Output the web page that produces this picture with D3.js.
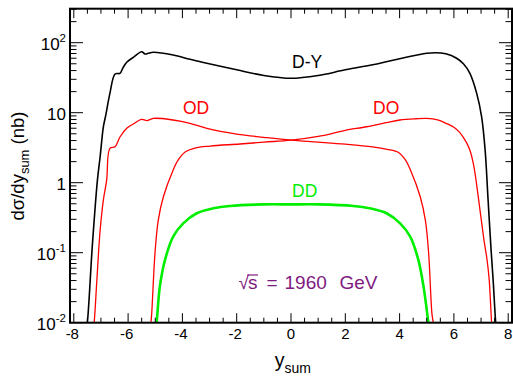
<!DOCTYPE html>
<html>
<head>
<meta charset="utf-8">
<script src="https://cdn.jsdelivr.net/npm/d3@7"></script>
<style>
  body { margin: 0; background: #fff; }
  text { font-family: "Liberation Sans", Arial, Helvetica, sans-serif; }
</style>
</head>
<body>
<svg id="chart" width="513" height="377"></svg>
<script>
// Drell-Yan rapidity distributions, d sigma / d y_sum in nb

// D-Y (total)
const dyX = [-7.60, -7.50, -7.32, -7.13, -7.03, -6.91, -6.82, -6.67, -6.48, -6.30, -6.18, -6.05, -5.81, -5.50, -5.38, -5.26, -5.07, -4.34, -3.72, -3.10, -2.0, -1.0, 0.0, 1.0, 2.0, 3.28, 4.0, 4.6, 5.0, 5.3, 5.7, 6.10, 6.35, 6.59, 6.84, 7.02, 7.15, 7.26, 7.37, 7.45, 7.54, 7.62];
const dyVal = [0.005, 0.01, 0.122, 1.09, 2.35, 6.3, 9.3, 18.9, 35.7, 36.5, 44.5, 52.5, 61.8, 74.4, 69, 70.6, 73, 66.7, 58, 50.8, 41, 34, 31, 34, 41, 51, 59, 66, 70.5, 72, 69.5, 60, 50, 36.5, 18.9, 8.8, 2.93, 0.56, 0.109, 0.038, 0.01, 0.005];

// OD component
const odX = [-7.32, -7.25, -7.15, -7.03, -6.91, -6.79, -6.67, -6.48, -6.30, -6.05, -5.81, -5.50, -5.31, -5.07, -4.34, -3.72, -3.10, -2.0, -1.0, 0.0, 1.0, 2.0, 3.0, 3.54, 3.96, 4.22, 4.40, 4.76, 4.95, 5.07, 5.19, 5.24, 5.30];
const odVal = [0.006, 0.01, 0.041, 0.21, 0.57, 1.09, 3.1, 3.27, 4.5, 6.0, 6.9, 8.05, 7.7, 8.3, 7.87, 7.06, 5.98, 4.95, 4.45, 4.05, 3.8, 3.55, 3.25, 3.0, 2.7, 2.1, 1.52, 0.63, 0.29, 0.098, 0.0136, 0.01, 0.006];

// DO component
const doX = [-5.22, -5.16, -5.13, -5.01, -4.89, -4.70, -4.34, -4.16, -3.90, -3.54, -2.98, -1.88, -1.0, 0.0, 1.0, 1.56, 2.0, 2.79, 3.5, 4.01, 4.6, 5.0, 5.4, 5.73, 6.0, 6.22, 6.47, 6.59, 6.70, 6.78, 6.96, 7.11, 7.22, 7.30, 7.39, 7.46];
const doVal = [0.007, 0.01, 0.0136, 0.098, 0.29, 0.63, 1.52, 2.1, 2.75, 3.13, 3.34, 3.57, 3.8, 4.05, 4.6, 5.1, 5.6, 6.3, 7.2, 7.87, 8.2, 8.3, 7.9, 7.0, 6.2, 5.2, 3.7, 2.9, 2.0, 1.35, 0.41, 0.15, 0.08, 0.041, 0.01, 0.005];

// DD component
const ddX = [-5.00, -4.95, -4.83, -4.64, -4.34, -3.97, -3.47, -2.86, -2.25, -1.02, 0.0, 1.02, 2.30, 2.90, 3.52, 4.02, 4.39, 4.69, 4.88, 5.06, 5.11];
const ddVal = [0.007, 0.01, 0.033, 0.079, 0.17, 0.263, 0.366, 0.431, 0.465, 0.49, 0.49, 0.49, 0.465, 0.431, 0.366, 0.263, 0.17, 0.079, 0.033, 0.01, 0.007];

const xTicks = [-8, -6, -4, -2, 0, 2, 4, 6, 8];
const yTicks = [0.01, 0.1, 1, 10, 100];
const yTickBase = ["10", "10", "1", "10", "10"];
const yTickExp = ["-2", "-1", "", "", "2"];

const series = [
  { name: "D-Y", xs: dyX, vs: dyVal, color: "#000000", width: 1.6 },
  { name: "OD",  xs: odX, vs: odVal, color: "#ff0000", width: 1.3 },
  { name: "DO",  xs: doX, vs: doVal, color: "#ff0000", width: 1.3 },
  { name: "DD",  xs: ddX, vs: ddVal, color: "#00ee00", width: 2.6 }
];

const plotL = 70, plotR = 512, plotT = 8.7, plotB = 322.7;
const svg = d3.select("#chart");

const x = d3.scaleLinear().domain([-8.14, 8.14]).range([plotL, plotR]);
const y = d3.scaleLog().domain([0.01, Math.pow(10, 2 + 34 / 70)]).range([plotB, plotT]);

svg.append("defs").append("clipPath").attr("id", "plotclip")
  .append("rect").attr("x", plotL).attr("y", plotT)
  .attr("width", plotR - plotL).attr("height", plotB - plotT);

// curves
const line = d3.line()
  .x(d => x(d[0]))
  .y(d => y(d[1]))
  .curve(d3.curveCatmullRom.alpha(0.5));

const g = svg.append("g").attr("clip-path", "url(#plotclip)");
series.forEach(s => {
  const pts = s.xs.map((v, i) => [v, s.vs[i]]);
  g.append("path")
    .attr("d", line(pts))
    .attr("fill", "none")
    .attr("stroke", s.color)
    .attr("stroke-width", s.width)
    .attr("stroke-linejoin", "round");
});

// ticks (all inward) on four sides
const xMinor = d3.range(-8, 8.001, 0.5).filter(v => Math.abs(v % 2) > 1e-6);
const yMinor = [];
for (let e = -2; e <= 2; e++) {
  for (let k = 2; k <= 9; k++) {
    const v = k * Math.pow(10, e);
    if (v <= y.domain()[1]) yMinor.push(v);
  }
}
const tk = svg.append("g").attr("stroke", "#000").attr("stroke-width", 1);
xTicks.forEach(v => {
  const px = x(v);
  tk.append("line").attr("x1", px).attr("x2", px).attr("y1", plotB).attr("y2", plotB - 9.5);
  tk.append("line").attr("x1", px).attr("x2", px).attr("y1", plotT).attr("y2", plotT + 9.5);
});
xMinor.forEach(v => {
  const px = x(v);
  tk.append("line").attr("x1", px).attr("x2", px).attr("y1", plotB).attr("y2", plotB - 5);
  tk.append("line").attr("x1", px).attr("x2", px).attr("y1", plotT).attr("y2", plotT + 5);
});
yTicks.forEach(v => {
  const py = y(v);
  tk.append("line").attr("x1", plotL).attr("x2", plotL + 13).attr("y1", py).attr("y2", py);
  tk.append("line").attr("x1", plotR).attr("x2", plotR - 13).attr("y1", py).attr("y2", py);
});
yMinor.forEach(v => {
  const py = y(v);
  tk.append("line").attr("x1", plotL).attr("x2", plotL + 6.5).attr("y1", py).attr("y2", py);
  tk.append("line").attr("x1", plotR).attr("x2", plotR - 6.5).attr("y1", py).attr("y2", py);
});

// frame
svg.append("rect")
  .attr("x", plotL).attr("y", plotT)
  .attr("width", plotR - plotL).attr("height", plotB - plotT)
  .attr("fill", "none").attr("stroke", "#000").attr("stroke-width", 2);

// x tick labels
xTicks.forEach(v => {
  svg.append("text")
    .attr("x", x(v) + (v < 0 ? -1.5 : 0)).attr("y", plotB + 16.5)
    .attr("text-anchor", "middle")
    .attr("font-size", 15)
    .text(v < 0 ? "-" + Math.abs(v) : String(v));
});

// y tick labels
yTicks.forEach((v, i) => {
  const t = svg.append("text")
    .attr("x", 66).attr("y", y(v) + 7.5)
    .attr("text-anchor", "end")
    .attr("font-size", 17);
  t.append("tspan").text(yTickBase[i]);
  if (yTickExp[i]) {
    t.append("tspan").attr("font-size", 11.5).attr("dy", -8).text(yTickExp[i]);
  }
});

// axis titles
const yt = svg.append("text")
  .attr("transform", "translate(24,166) rotate(-90)")
  .attr("text-anchor", "middle")
  .attr("font-size", 18.5);
yt.append("tspan").text("dσ/dy");
yt.append("tspan").attr("font-size", 13).attr("dy", 5).text("sum");
yt.append("tspan").attr("dy", -5).text(" (nb)");

const xt = svg.append("text")
  .attr("x", 311).attr("y", 367)
  .attr("text-anchor", "end")
  .attr("font-size", 19.5);
xt.append("tspan").text("y");
xt.append("tspan").attr("font-size", 14).attr("dy", 6).text("sum");

// series labels
const labels = [
  { text: "D-Y", x: 292, y: 68,    color: "#000000" },
  { text: "OD",  x: 183, y: 114,   color: "#ff0000" },
  { text: "DO",  x: 373, y: 114.3, color: "#ff0000" },
  { text: "DD",  x: 292, y: 196.7, color: "#00ee00" }
];
labels.forEach(l => {
  svg.append("text")
    .attr("x", l.x).attr("y", l.y)
    .attr("font-size", 17.5)
    .attr("fill", l.color)
    .text(l.text);
});

// energy annotation: radical sign with a bar over s
const purple = "#7f1a7f";
const annX = 238.5, annY = 289, annSize = 19;
const rad = svg.append("text")
  .attr("x", annX).attr("y", annY)
  .attr("font-size", annSize)
  .attr("fill", purple)
  .text("√");
const radW = rad.node().getComputedTextLength();
const sX = annX + radW - 1;
const rest = svg.append("text")
  .attr("y", annY)
  .attr("font-size", annSize)
  .attr("fill", purple);
rest.append("tspan").attr("x", sX).text("s");
rest.append("tspan").attr("x", 266.5).text("=");
rest.append("tspan").attr("x", 284.5).text("1960");
rest.append("tspan").attr("x", 339.5).text("GeV");
const sW = rest.node().getSubStringLength(0, 1);
svg.append("line")
  .attr("x1", sX - 0.5).attr("x2", sX + sW + 0.5)
  .attr("y1", annY - 14).attr("y2", annY - 14)
  .attr("stroke", purple).attr("stroke-width", 1.2);
</script>
</body>
</html>
